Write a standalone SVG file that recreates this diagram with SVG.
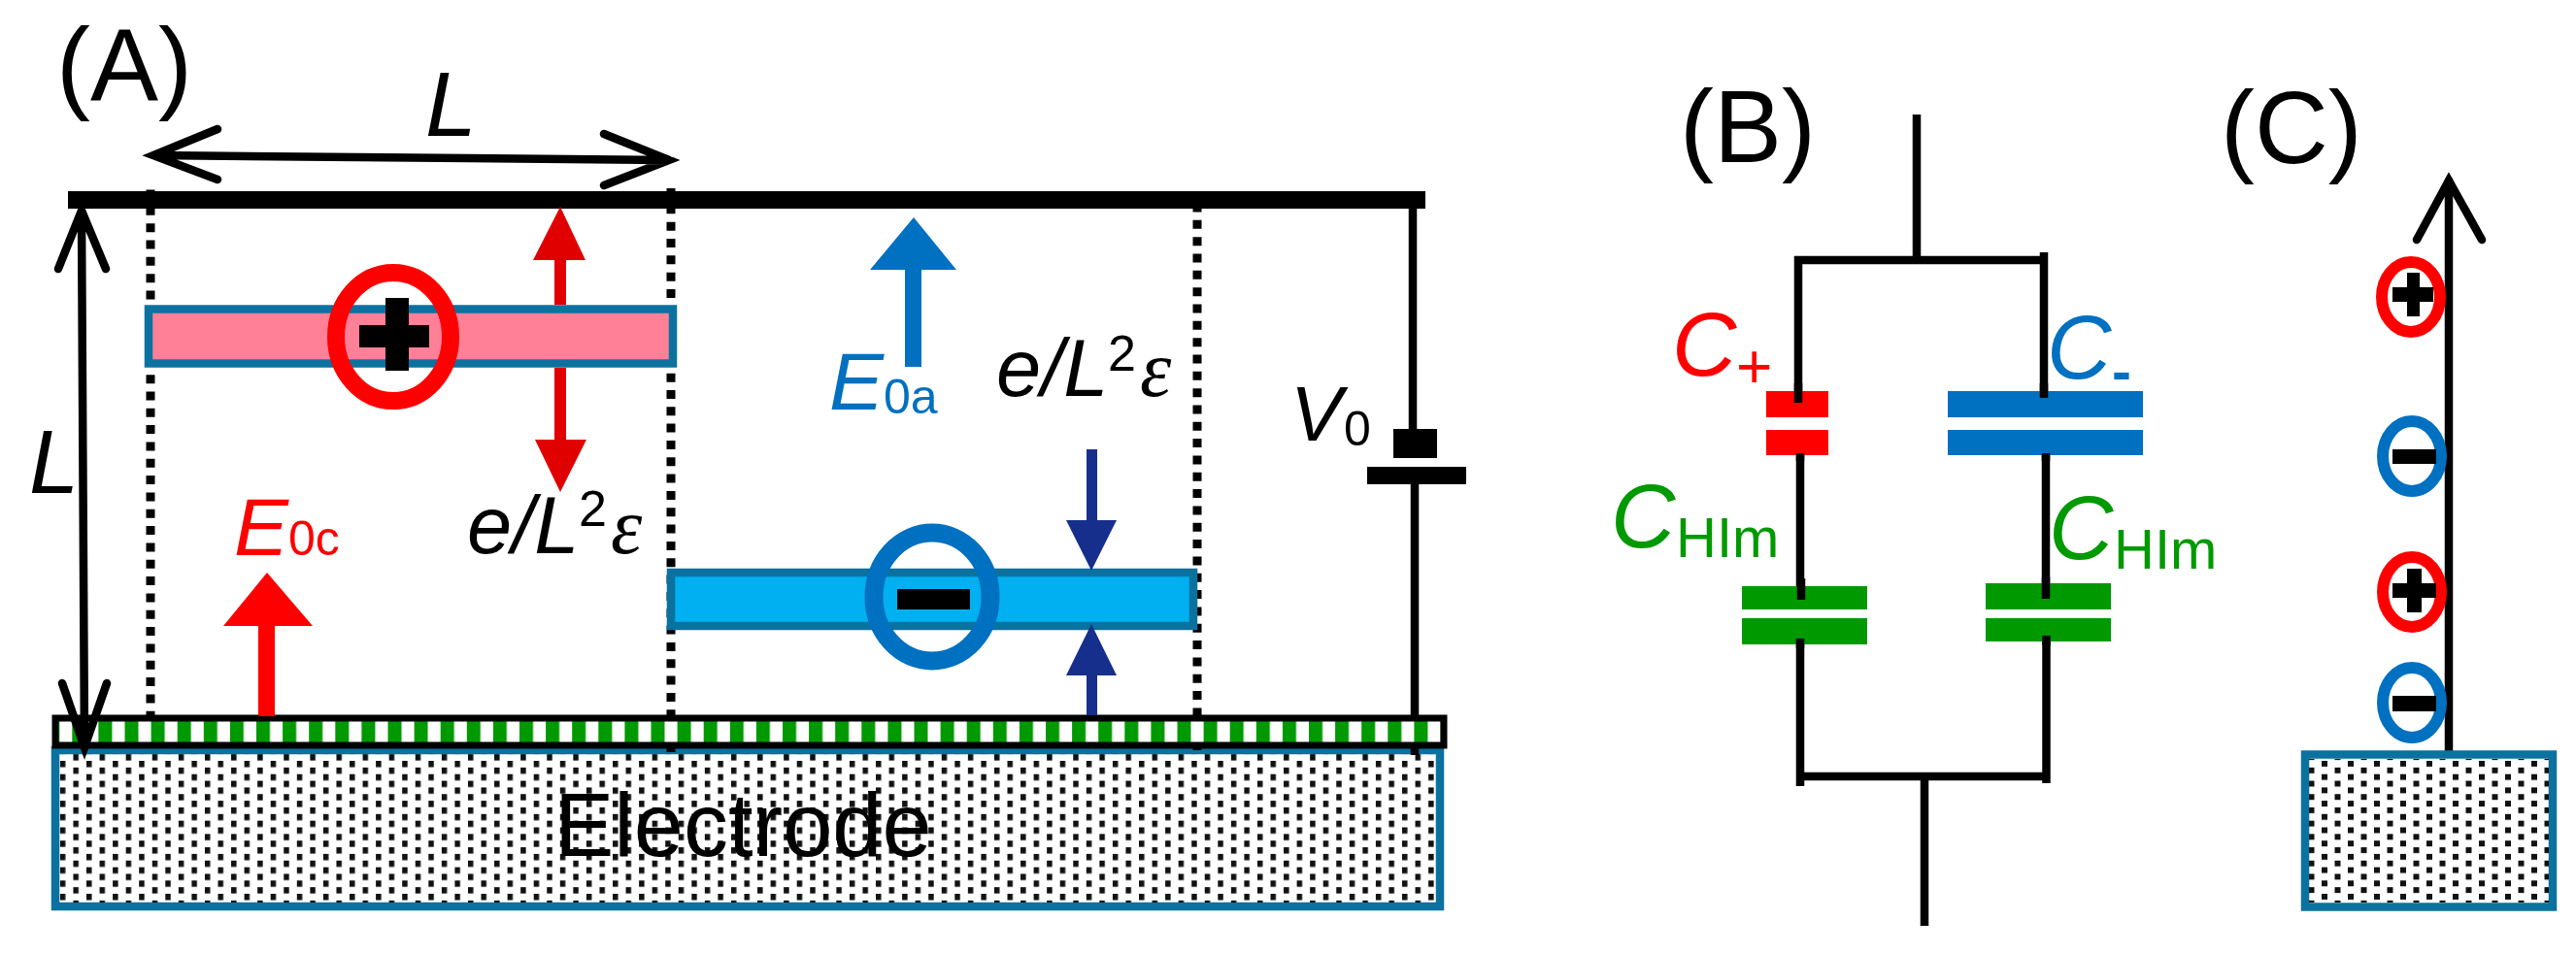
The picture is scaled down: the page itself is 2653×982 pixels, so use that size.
<svg xmlns="http://www.w3.org/2000/svg" width="2653" height="982" viewBox="0 0 2653 982">
<style>
text{font-family:"Liberation Sans",Arial,sans-serif}
.i{font-style:italic}
.lab{font-size:105px;fill:#000}
.k{fill:#000}
.r{fill:#f00}
.b{fill:#0070c0}
.g{fill:#009900}
.w{stroke:#000;stroke-width:8.5;fill:none}
.dot{stroke:#000;stroke-width:9;stroke-dasharray:9 8.33;fill:none}
.open{stroke:#000;stroke-width:8.5;fill:none;stroke-linecap:round;stroke-linejoin:miter}
.sheet{stroke:#0b72a0;stroke-width:8.5}
.rr{fill:#e00000}
.n{fill:#162f8c}
.eps{font-family:"Liberation Serif",serif;font-style:italic;font-size:82px}
.sup{font-style:normal;font-size:52px}
.it{font-style:italic}
</style>
<defs>
<pattern id="stripes" patternUnits="userSpaceOnUse" x="101.4" y="0" width="27.1" height="10">
<rect width="27.1" height="10" fill="#fff"/><rect width="14" height="10" fill="#009900"/>
</pattern>
<pattern id="dotsA" patternUnits="userSpaceOnUse" x="89" y="784" width="27.1" height="13.7">
<rect x="0" y="0" width="5.5" height="6.5" fill="#111"/><rect x="13.55" y="6.85" width="5.5" height="6.5" fill="#111"/>
</pattern>
<pattern id="dotsC" patternUnits="userSpaceOnUse" x="2391" y="784" width="27" height="13.7">
<rect x="0" y="0" width="6" height="6" fill="#111"/><rect x="13.5" y="6.85" width="6" height="6" fill="#111"/>
</pattern>
</defs>
<rect width="2653" height="982" fill="#fff"/>

<g id="electrode-a">
<rect class="sheet" x="57" y="773" width="1426" height="161" fill="#fff"/>
<rect x="61" y="777" width="1418" height="153" fill="url(#dotsA)"/>
<text x="571" y="882" font-size="92" class="k">Electrode</text>
</g>

<g id="connectors">
<path class="dot" d="M155 195.500V738"/>
<path class="dot" d="M691 194V777"/>
<path class="dot" d="M1233 209.500V777"/>
<path class="w" d="M1455 215V442M1457 499V778"/>
<path class="w" d="M1974 118V268M1848 268H2107M1852 264V415M2105 260V410M1854 467V618M2107 467V617M1854 658V810M2107.500 655V807M1850 800H2107M1982 800V954"/>
<path class="open" d="M2522 186V775"/>
<path class="open" d="M2489 247L2522 186L2556 247"/>
</g>

<g id="ion-sheet-plus">
<rect class="sheet" x="153" y="318.500" width="540" height="56" fill="#ff8097"/>
<ellipse cx="405" cy="347" rx="59" ry="66" fill="none" stroke="#f00" stroke-width="18"/>
<rect class="k" x="397" y="307" width="24" height="75"/>
<rect class="k" x="370" y="335" width="72" height="23"/>
</g>

<g id="ion-sheet-minus">
<rect class="sheet" x="691" y="590" width="538" height="55" fill="#00b0f0"/>
<ellipse cx="960" cy="615" rx="60" ry="66" fill="none" stroke="#0070c0" stroke-width="19"/>
<rect class="k" x="924" y="607" width="75" height="21"/>
</g>

<g id="helmholtz-layer">
<rect x="57" y="740" width="1430" height="28" fill="url(#stripes)" stroke="#000" stroke-width="7"/>
</g>

<g id="top-plate"><rect class="k" x="70" y="197" width="1398" height="18"/></g>

<g id="battery">
<rect class="k" x="1435" y="442" width="45" height="30"/>
<rect class="k" x="1408" y="481" width="102" height="18"/>
<text font-size="80"><tspan class="it" x="1329" y="454">V</tspan><tspan x="1384" y="459" font-size="50">0</tspan></text>
</g>

<g id="dimension-arrows">
<path class="open" d="M158 160L689 165M224 133L158 160L224 185M622 138L689 165L622 191"/>
<path class="open" d="M84 217L87 770M60 277L84 217L109 277M64 704L87 770L110 704"/>
<text class="i" x="438" y="140" font-size="95">L</text>
<text class="i" x="30" y="508" font-size="92">L</text>
</g>

<g id="field-e0c">
<path class="r" d="M275 590L322 645H283V738H266V645H230Z"/>
<text class="r" font-size="84"><tspan class="it" x="241" y="572">E</tspan><tspan x="297" y="572" font-size="50">0c</tspan></text>
</g>
<g id="field-e0a">
<path class="b" d="M941 224L985 278H949V378H932V278H896Z"/>
<text class="b" font-size="84"><tspan class="it" x="854" y="422">E</tspan><tspan x="910" y="426" font-size="50">0a</tspan></text>
</g>

<g id="plus-field">
<path class="rr" d="M577 213L603 268H583V314H571V268H549Z"/>
<path class="rr" d="M571 379H583V453H604L577 507L551 453H571Z"/>
<text font-size="83"><tspan class="it" x="481" y="570">e/L</tspan><tspan class="sup" x="596" y="542">2</tspan><tspan class="eps" x="629" y="570">ε</tspan></text>
</g>
<g id="minus-field">
<path class="n" d="M1119 463H1130V536H1150L1124 588L1098 536H1119Z"/>
<path class="n" d="M1124 643L1150 696H1130V737H1119V696H1098Z"/>
<text font-size="83"><tspan class="it" x="1026" y="408">e/L</tspan><tspan class="sup" x="1141" y="382">2</tspan><tspan class="eps" x="1174" y="408">ε</tspan></text>
</g>

<g id="label-a"><text class="lab" x="58" y="103">(A)</text></g>
<g id="label-b"><text class="lab" x="1730" y="167">(B)</text></g>
<g id="label-c"><text class="lab" x="2287" y="168">(C)</text></g>

<g id="c-plus">
<rect class="r" x="1819" y="403" width="64" height="27"/>
<rect class="r" x="1819" y="443" width="64" height="26"/>
<path class="w" d="M1852 395V415M1854 467V475"/>
<text class="r" font-size="92"><tspan class="it" x="1722" y="387">C</tspan><tspan x="1788" y="400" font-size="64">+</tspan></text>
</g>
<g id="c-minus">
<rect class="b" x="2006" y="403" width="201" height="27"/>
<rect class="b" x="2006" y="443" width="201" height="26"/>
<path class="w" d="M2105 395V410M2107 467V475"/>
<text class="b" font-size="92"><tspan class="it" x="2108" y="390">C</tspan><tspan x="2175" y="403" font-size="60" font-weight="bold">-</tspan></text>
</g>
<g id="c-him-left">
<rect class="g" x="1794" y="604" width="129" height="24"/>
<rect class="g" x="1794" y="637" width="129" height="27"/>
<path class="w" d="M1855 596V618M1854 658V668"/>
<text class="g" font-size="92"><tspan class="it" x="1659" y="564">C</tspan><tspan x="1726" y="574" font-size="58">HIm</tspan></text>
</g>
<g id="c-him-right">
<rect class="g" x="2045" y="601" width="129" height="27"/>
<rect class="g" x="2045" y="637" width="129" height="24"/>
<path class="w" d="M2107 595V617M2107.500 655V665"/>
<text class="g" font-size="92"><tspan class="it" x="2110" y="576">C</tspan><tspan x="2177" y="586" font-size="58">HIm</tspan></text>
</g>

<g id="electrode-c">
<rect class="sheet" x="2374" y="777.500" width="255" height="157" fill="#fff"/>
<rect x="2378" y="782" width="247" height="148" fill="url(#dotsC)"/>
</g>
<g id="ion-c1">
<ellipse cx="2483" cy="306" rx="30" ry="36" fill="none" stroke="#f00" stroke-width="12"/>
<rect class="k" x="2479" y="281" width="13" height="45"/><rect class="k" x="2464" y="296" width="42" height="15"/>
</g>
<g id="ion-c2">
<ellipse cx="2484" cy="470" rx="30" ry="36" fill="none" stroke="#0070c0" stroke-width="12"/>
<rect class="k" x="2464" y="463" width="45" height="15"/>
</g>
<g id="ion-c3">
<ellipse cx="2484" cy="610" rx="30" ry="36" fill="none" stroke="#f00" stroke-width="12"/>
<rect class="k" x="2479" y="586" width="15" height="45"/><rect class="k" x="2464" y="601" width="45" height="15"/>
</g>
<g id="ion-c4">
<ellipse cx="2484" cy="724" rx="30" ry="36" fill="none" stroke="#0070c0" stroke-width="12"/>
<rect class="k" x="2464" y="717" width="45" height="16"/>
</g>
</svg>
